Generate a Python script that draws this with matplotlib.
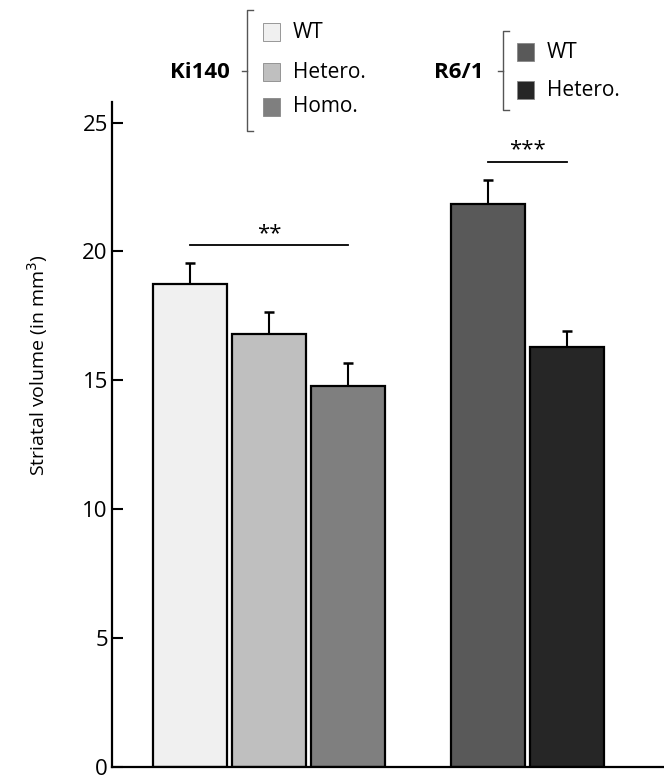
import matplotlib
matplotlib.use("Agg")
import matplotlib.pyplot as plt
from matplotlib.lines import Line2D
from matplotlib.patches import Rectangle

plt.rcParams['font.family'] = ['Open Sans', 'DejaVu Sans']

# data
groups = ["Ki140", "R6/1"]
ki_labels = ["WT", "Hetero.", "Homo."]
r6_labels = ["WT", "Hetero."]
means = [18.74, 16.81, 14.79, 21.84, 16.29]
sems = [0.81, 0.84, 0.87, 0.95, 0.64]
colors = ["#f0f0f0", "#bfbfbf", "#7f7f7f", "#595959", "#262626"]
xpos = [0, 1, 2, 3.77, 4.77]
yticks = [0, 5, 10, 15, 20, 25]

W, H = 664, 775
fig = plt.figure(figsize=(W / 100, H / 100), dpi=100)
ax = fig.add_axes([112 / W, 8 / H, 1 - 112 / W, (767 - 102) / H])

ax.bar(xpos, means, width=0.93, color=colors, edgecolor="black", linewidth=1.6, zorder=2)
ax.errorbar(xpos, means, yerr=[[0] * 5, sems], fmt="none", ecolor="black",
            elinewidth=1.5, capsize=3.6, capthick=1.8, zorder=1)

ax.set_xlim(-0.99, 6.0)
ax.set_ylim(0, 25.8)
ax.set_yticks(yticks)
ax.set_xticks([])
ax.tick_params(axis="y", direction="in", length=8, width=1.5, labelsize=16, pad=3)
for s in ["top", "right"]:
    ax.spines[s].set_visible(False)
for s in ["left", "bottom"]:
    ax.spines[s].set_linewidth(1.6)
ax.set_ylabel("Striatal volume (in mm$^3$)", fontsize=14)
ax.yaxis.set_label_coords(-0.112, 0.604)

# significance bars
ax.plot([xpos[0], xpos[2]], [20.24, 20.24], color="black", lw=1.3)
ax.text((xpos[0] + xpos[2]) / 2, 20.3, "**", ha="center", va="bottom", fontsize=16)
ax.plot([xpos[3], xpos[4]], [23.47, 23.47], color="black", lw=1.3)
ax.text((xpos[3] + xpos[4]) / 2, 23.53, "***", ha="center", va="bottom", fontsize=16)


# legend drawn in pixel coordinates (from top-left)
def fx(px):
    return px / W


def fy(py):
    return 1 - py / H


def bracket(x, y0, y1, hook=6, tick=5):
    ym = (y0 + y1) / 2
    kw = dict(color="#555555", lw=1.0, transform=fig.transFigure)
    fig.add_artist(Line2D([fx(x + hook), fx(x), fx(x), fx(x + hook)],
                          [fy(y0), fy(y0), fy(y1), fy(y1)], **kw))
    fig.add_artist(Line2D([fx(x - tick), fx(x)], [fy(ym), fy(ym)], **kw))


def entry(x, y, color, label):
    fig.add_artist(Rectangle((fx(x), fy(y + 8.5)), 17 / W, 17 / H, facecolor=color,
                             edgecolor="#888888", lw=0.6, transform=fig.transFigure))
    fig.text(fx(x + 30), fy(y), label, fontsize=15, va="center", ha="left")


fig.text(fx(200), fy(72), groups[0], fontsize=16, fontweight="bold", ha="center", va="center")
bracket(247, 10, 131)
for lab, c, yy in zip(ki_labels, colors[:3], [32, 72, 107]):
    entry(263, yy, c, lab)

fig.text(fx(459), fy(72), groups[1], fontsize=16, fontweight="bold", ha="center", va="center")
bracket(503, 31, 110)
for lab, c, yy in zip(r6_labels, colors[3:], [52, 90]):
    entry(517, yy, c, lab)

fig.savefig("out.png", dpi=100)
